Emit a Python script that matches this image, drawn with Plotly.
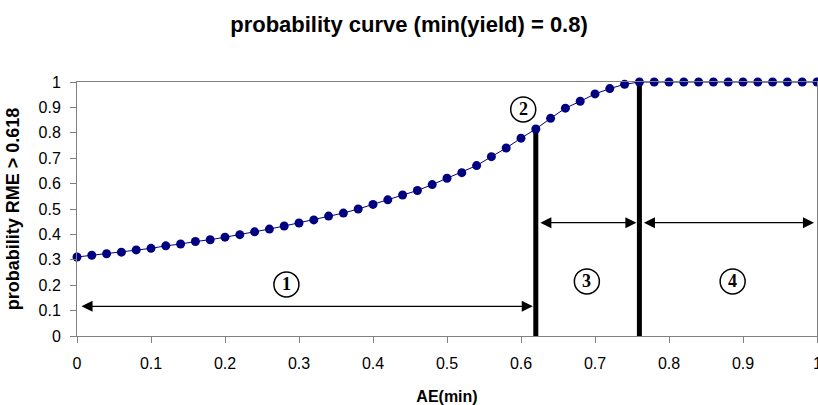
import plotly.graph_objects as go

# ---- data ----
ae_min = [round(i * 0.02, 2) for i in range(51)]
prob = [0.311, 0.318, 0.324, 0.330, 0.339, 0.345, 0.355, 0.362, 0.372, 0.379,
        0.389, 0.399, 0.410, 0.421, 0.433, 0.445, 0.457, 0.472, 0.484, 0.500,
        0.518, 0.536, 0.555, 0.573, 0.596, 0.621, 0.643, 0.671, 0.706, 0.740,
        0.779, 0.815, 0.857, 0.897, 0.924, 0.953, 0.974, 0.991, 1.0, 1.0,
        1.0, 1.0, 1.0, 1.0, 1.0, 1.0, 1.0, 1.0, 1.0, 1.0, 1.0]
tick_vals = [0, 0.1, 0.2, 0.3, 0.4, 0.5, 0.6, 0.7, 0.8, 0.9, 1]
tick_text = ["0", "0.1", "0.2", "0.3", "0.4", "0.5", "0.6", "0.7", "0.8", "0.9", "1"]
thresholds = [0.62, 0.76]
bar_tops = [0.815, 1.0]
# region arrows: (start, end, level)
arrow_spans = [(0.0, 0.62, 0.117), (0.62, 0.76, 0.446), (0.76, 1.0, 0.446)]
region_labels = ["1", "2", "3", "4"]
label_pos = [(0.283, 0.203), (0.603, 0.892), (0.689, 0.215), (0.886, 0.215)]

fig = go.Figure()

# thick vertical lines
for xt, yt in zip(thresholds, bar_tops):
    fig.add_trace(go.Scatter(x=[xt, xt], y=[0, yt], mode="lines",
                             line=dict(color="black", width=5),
                             showlegend=False, hoverinfo="skip", cliponaxis=False))

fig.add_trace(go.Scatter(x=ae_min, y=prob, mode="lines+markers",
                         line=dict(color="#000080", width=1),
                         marker=dict(color="#000080", size=9),
                         showlegend=False, cliponaxis=False))

annotations = []
for x0, x1, yl in arrow_spans:
    annotations.append(dict(x=x1, y=yl, ax=x0, ay=yl, xref="x", yref="y",
                            axref="x", ayref="y", text="", showarrow=True,
                            arrowhead=2, arrowside="end+start", arrowsize=1.7,
                            arrowwidth=1.3, arrowcolor="black", standoff=3, startstandoff=3))
shapes = []
for lab, (lx, ly) in zip(region_labels, label_pos):
    annotations.append(dict(x=lx, y=ly, xref="x", yref="y", text="<b>" + lab + "</b>",
                            showarrow=False,
                            font=dict(family="Liberation Serif, Times New Roman, serif",
                                      size=18, color="black")))
    shapes.append(dict(type="circle", xref="x", yref="y", xsizemode="pixel",
                       ysizemode="pixel", xanchor=lx, yanchor=ly,
                       x0=-12.5, x1=12.5, y0=-12.5, y1=12.5,
                       line=dict(color="black", width=1.5)))

# last x tick label, which plotly drops at the page edge (shown half-cut in the reference)
annotations.append(dict(x=tick_vals[-1], y=0, xref="x", yref="y", text=tick_text[-1],
                        showarrow=False, yshift=-27, font=dict(size=16)))

fig.update_layout(
    width=818, height=405,
    margin=dict(l=77, r=1, t=82, b=69, autoexpand=False),
    paper_bgcolor="white", plot_bgcolor="white",
    font=dict(family="Arial, Liberation Sans, sans-serif", size=16, color="black"),
    title=dict(text="<b>probability curve (min(yield) = 0.8)</b>", x=0.5, xanchor="center",
               y=0.94, yanchor="middle", font=dict(size=22)),
    xaxis=dict(range=[0, 1], tickvals=tick_vals, ticktext=tick_text, showgrid=False,
               zeroline=False, automargin=False, ticklabelstandoff=7,
               showline=True, linecolor="#808080", mirror=True, ticks="outside",
               ticklen=6, tickcolor="#808080",
               title=dict(text="<b>AE(min)</b>", font=dict(size=16), standoff=19)),
    yaxis=dict(range=[0, 1], tickvals=tick_vals, ticktext=tick_text, showgrid=False,
               zeroline=False, automargin=False, ticklabelstandoff=6,
               showline=True, linecolor="#808080", mirror=True, ticks="outside",
               ticklen=6, tickcolor="#808080",
               title=dict(text="<b>probability RME > 0.618</b>", font=dict(size=18), standoff=14)),
    annotations=annotations, shapes=shapes,
)

fig.write_html("out.html", config={"displayModeBar": False},
               post_script="document.body.style.margin='0';")
